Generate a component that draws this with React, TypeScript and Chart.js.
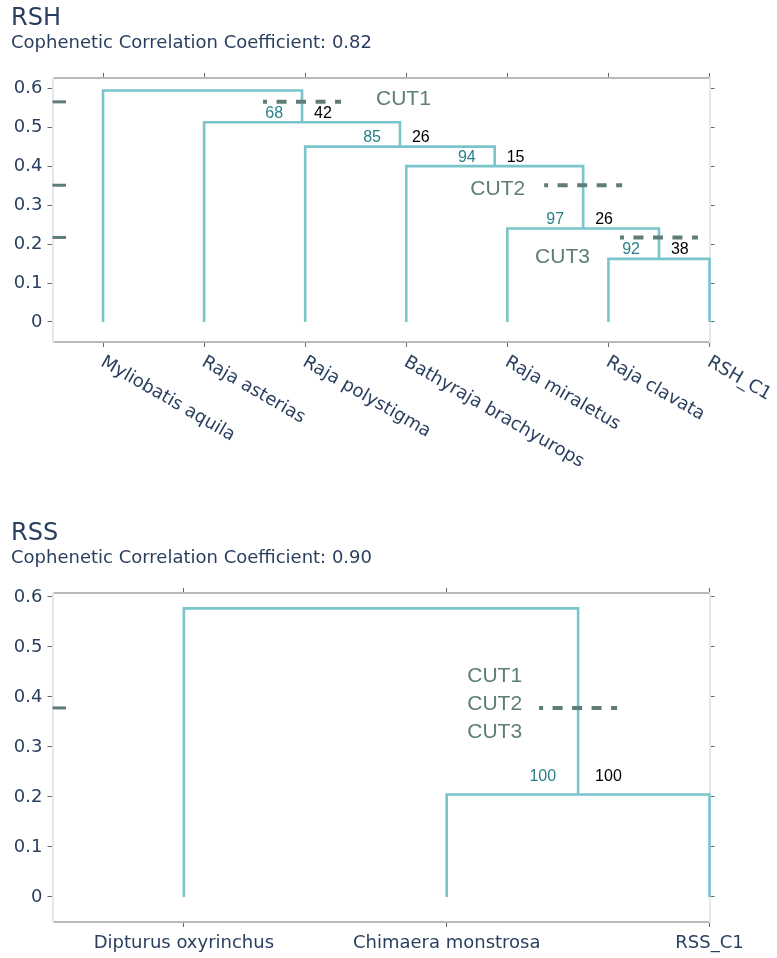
import React, { useEffect, useRef } from 'react';
import { Chart, registerables } from 'chart.js';

Chart.register(...registerables);

// ---- RSH group -------------------------------------------------------------
// leaves in dendrogram order; each merge joins two node ids (leaves first, then merges)
const RSH_LEAVES = [
  'Myliobatis aquila',
  'Raja asterias',
  'Raja polystigma',
  'Bathyraja brachyurops',
  'Raja miraletus',
  'Raja clavata',
  'RSH_C1',
];
const RSH_MERGES = [[5, 6], [4, 7], [3, 8], [2, 9], [1, 10], [0, 11]];
const RSH_HEIGHTS = [0.162, 0.24, 0.4, 0.45, 0.5125, 0.594];
const RSH_AU = [92, 97, 94, 85, 68, null];
const RSH_BP = [38, 26, 15, 26, 42, null];
const RSH_CUTS = [0.565, 0.351, 0.217];
const RSH_CCC = 0.82;

// ---- RSS group -------------------------------------------------------------
const RSS_LEAVES = ['Dipturus oxyrinchus', 'Chimaera monstrosa', 'RSS_C1'];
const RSS_MERGES = [[1, 2], [0, 3]];
const RSS_HEIGHTS = [0.205, 0.577];
const RSS_AU = [100, null];
const RSS_BP = [100, null];
const RSS_CUTS = [0.378, 0.378, 0.378];
const RSS_CCC = 0.9;

const CUT_NAMES = ['CUT1', 'CUT2', 'CUT3'];
const Y_TICKS = [0, 0.1, 0.2, 0.3, 0.4, 0.5, 0.6];

// ---- styling ---------------------------------------------------------------
const TEXT = '#2a3f5f';
const LINK = 'rgb(122,196,203)';
const AU_COLOR = 'rgb(42,128,136)';
const BP_COLOR = '#000000';
const CUT_COLOR = 'rgb(94,125,120)';
const FRAME_DARK = '#b9b9b9';
const FRAME_LIGHT = '#e2e6ee';
const TICK = '#666666';
const AXIS_FAMILY = "'DejaVu Sans', sans-serif";
const NOTE_FAMILY = "'Liberation Sans', Arial, sans-serif";

type Placement = { align: 'left' | 'right'; dx: number; dy: number };

interface Spec {
  title: string;
  ccc: number;
  leaves: string[];
  merges: number[][];
  heights: number[];
  au: (number | null)[];
  bp: (number | null)[];
  cuts: number[];
  yMin: number;
  yMax: number;
  rotateLabels: boolean;
  xAxisHeight: number;
  xLabelPadding: number;
  noteLift: number;
  noteGapLeft: number;
  noteGapRight: number;
  cutPlacement: Placement[];
}

// positions of every node (leaf index or midpoint of children) and the
// four-point elbow for each merge
function buildTree(leafCount: number, merges: number[][], heights: number[]) {
  const xs: number[] = [];
  const hs: number[] = [];
  for (let i = 0; i < leafCount; i++) {
    xs.push(i);
    hs.push(0);
  }
  const parentH: (number | null)[] = new Array(leafCount + merges.length).fill(null);
  const links: { x: number; y: number }[][] = [];
  merges.forEach(([a, b], k) => {
    const h = heights[k];
    const id = leafCount + k;
    xs[id] = (xs[a] + xs[b]) / 2;
    hs[id] = h;
    parentH[a] = h;
    parentH[b] = h;
    links.push([
      { x: xs[a], y: hs[a] },
      { x: xs[a], y: h },
      { x: xs[b], y: h },
      { x: xs[b], y: hs[b] },
    ]);
  });
  return { xs, hs, parentH, links };
}

function makeConfig(spec: Spec): any {
  const n = spec.leaves.length;
  const tree = buildTree(n, spec.merges, spec.heights);

  // group cuts that share a height so their names stack together
  const groups: { h: number; names: string[] }[] = [];
  spec.cuts.forEach((h, i) => {
    const g = groups.find((gr) => Math.abs(gr.h - h) < 1e-9);
    if (g) g.names.push(CUT_NAMES[i]);
    else groups.push({ h, names: [CUT_NAMES[i]] });
  });

  // internal branch crossed by a cut height
  const stemAt = (h: number) => {
    for (let id = n; id < tree.xs.length; id++) {
      const p = tree.parentH[id];
      if (p !== null && tree.hs[id] < h && h < p) return tree.xs[id];
    }
    return tree.xs[tree.xs.length - 1];
  };

  const marks = {
    id: 'dendroMarks',
    afterDatasetsDraw(chart: any) {
      const { ctx, chartArea } = chart;
      const xs = chart.scales.x;
      const ys = chart.scales.y;
      ctx.save();

      groups.forEach((g, gi) => {
        const py = ys.getPixelForValue(g.h);
        // marker on the left edge
        ctx.strokeStyle = CUT_COLOR;
        ctx.lineWidth = 3;
        ctx.setLineDash([]);
        ctx.beginPath();
        ctx.moveTo(chartArea.left, py);
        ctx.lineTo(chartArea.left + 13.5, py);
        ctx.stroke();

        // dashed cut across the branch
        const sx = xs.getPixelForValue(stemAt(g.h));
        ctx.lineWidth = 4;
        ctx.setLineDash([10, 9.5]);
        ctx.lineDashOffset = 6;
        ctx.beginPath();
        ctx.moveTo(sx - 39, py);
        ctx.lineTo(sx + 39, py);
        ctx.stroke();
        ctx.setLineDash([]);

        // cut names
        const pl = spec.cutPlacement[gi];
        ctx.font = `21px ${NOTE_FAMILY}`;
        ctx.fillStyle = CUT_COLOR;
        ctx.textAlign = pl.align;
        ctx.textBaseline = 'middle';
        const yc = py + pl.dy;
        g.names.forEach((name, i) => {
          ctx.fillText(name, sx + pl.dx, yc + (i - (g.names.length - 1) / 2) * 28);
        });
      });

      // support values beside each internal node
      ctx.font = `16px ${NOTE_FAMILY}`;
      ctx.textBaseline = 'middle';
      spec.merges.forEach((_, k) => {
        const au = spec.au[k];
        const bp = spec.bp[k];
        const id = n + k;
        const px = xs.getPixelForValue(tree.xs[id]);
        const py = ys.getPixelForValue(tree.hs[id]) - spec.noteLift;
        if (au !== null) {
          ctx.fillStyle = AU_COLOR;
          ctx.textAlign = 'right';
          ctx.fillText(String(au), px - spec.noteGapLeft, py);
        }
        if (bp !== null) {
          ctx.fillStyle = BP_COLOR;
          ctx.textAlign = 'left';
          ctx.fillText(String(bp), px + spec.noteGapRight, py);
        }
      });
      ctx.restore();
    },
    afterDraw(chart: any) {
      if (!spec.rotateLabels) return;
      const { ctx, chartArea } = chart;
      const xs = chart.scales.x;
      ctx.save();
      ctx.font = `18px ${AXIS_FAMILY}`;
      ctx.fillStyle = TEXT;
      ctx.textAlign = 'left';
      ctx.textBaseline = 'middle';
      spec.leaves.forEach((label, i) => {
        const px = xs.getPixelForValue(i);
        ctx.save();
        ctx.translate(px - 1, chartArea.bottom + 19);
        ctx.rotate(Math.PI / 6);
        ctx.fillText(label, 0, 0);
        ctx.restore();
      });
      ctx.restore();
    },
  };

  const leafTicks = (s: any) => {
    s.ticks = spec.leaves.map((_, i) => ({ value: i }));
  };
  const valueTicks = (s: any) => {
    s.ticks = Y_TICKS.map((v) => ({ value: v }));
  };
  const axisFont = { family: AXIS_FAMILY, size: 18 };
  const tickGrid = {
    drawOnChartArea: false,
    drawTicks: true,
    tickLength: 5,
    color: TICK,
    tickColor: TICK,
    tickWidth: 1,
  };

  return {
    type: 'scatter',
    data: {
      datasets: tree.links.map((pts) => ({
        data: pts,
        showLine: true,
        borderColor: LINK,
        borderWidth: 2.6,
        borderJoinStyle: 'miter',
        pointRadius: 0,
        pointHoverRadius: 0,
        fill: false,
        tension: 0,
        clip: false,
      })),
    },
    options: {
      responsive: false,
      animation: false,
      devicePixelRatio: 1,
      events: [],
      layout: { padding: { left: 11, right: 61.5, top: 0, bottom: 0 } },
      plugins: {
        legend: { display: false },
        tooltip: { enabled: false },
        title: {
          display: true,
          text: spec.title,
          align: 'start',
          color: TEXT,
          font: { family: AXIS_FAMILY, size: 24, weight: 'normal' },
          padding: { top: 4, bottom: 0 },
        },
        subtitle: {
          display: true,
          text: `Cophenetic Correlation Coefficient: ${spec.ccc.toFixed(2)}`,
          align: 'start',
          color: TEXT,
          font: { family: AXIS_FAMILY, size: 18, weight: 'normal' },
          padding: { top: 0, bottom: 17.5 },
        },
      },
      scales: {
        x: {
          type: 'linear',
          position: 'bottom',
          min: -0.5,
          max: n - 1,
          afterBuildTicks: leafTicks,
          ticks: {
            display: !spec.rotateLabels,
            callback: (_v: number, i: number) => spec.leaves[i],
            font: axisFont,
            color: TEXT,
            padding: spec.xLabelPadding,
            maxRotation: 0,
            minRotation: 0,
            autoSkip: false,
          },
          grid: tickGrid,
          border: { display: true, color: FRAME_DARK, width: 2 },
          afterFit: (s: any) => {
            s.height = spec.xAxisHeight;
          },
        },
        x2: {
          type: 'linear',
          position: 'top',
          min: -0.5,
          max: n - 1,
          afterBuildTicks: leafTicks,
          ticks: { display: false },
          grid: tickGrid,
          border: { display: true, color: FRAME_DARK, width: 2 },
          afterFit: (s: any) => {
            s.height = 6;
          },
        },
        y: {
          type: 'linear',
          position: 'left',
          min: spec.yMin,
          max: spec.yMax,
          afterBuildTicks: valueTicks,
          ticks: {
            callback: (v: number) => String(v),
            font: axisFont,
            color: TEXT,
            padding: 5,
          },
          grid: tickGrid,
          border: { display: true, color: FRAME_LIGHT, width: 2 },
          afterFit: (s: any) => {
            s.width = 41.5;
          },
        },
        y2: {
          type: 'linear',
          position: 'right',
          min: spec.yMin,
          max: spec.yMax,
          afterBuildTicks: valueTicks,
          ticks: { display: false },
          grid: tickGrid,
          border: { display: true, color: FRAME_LIGHT, width: 2 },
          afterFit: (s: any) => {
            s.width = 6;
          },
        },
      },
    },
    plugins: [marks],
  };
}

const RSH_SPEC: Spec = {
  title: 'RSH',
  ccc: RSH_CCC,
  leaves: RSH_LEAVES,
  merges: RSH_MERGES,
  heights: RSH_HEIGHTS,
  au: RSH_AU,
  bp: RSH_BP,
  cuts: RSH_CUTS,
  yMin: -0.0514,
  yMax: 0.6265,
  rotateLabels: true,
  xAxisHeight: 138,
  xLabelPadding: 5,
  noteLift: 9,
  noteGapLeft: 19,
  noteGapRight: 12,
  cutPlacement: [
    { align: 'left', dx: 74, dy: -3 },
    { align: 'right', dx: -58, dy: 3.5 },
    { align: 'right', dx: -69, dy: 20 },
  ],
};

const RSS_SPEC: Spec = {
  title: 'RSS',
  ccc: RSS_CCC,
  leaves: RSS_LEAVES,
  merges: RSS_MERGES,
  heights: RSS_HEIGHTS,
  au: RSS_AU,
  bp: RSS_BP,
  cuts: RSS_CUTS,
  yMin: -0.05,
  yMax: 0.608,
  rotateLabels: false,
  xAxisHeight: 36,
  xLabelPadding: 5.2,
  noteLift: 18,
  noteGapLeft: 22,
  noteGapRight: 17,
  cutPlacement: [{ align: 'right', dx: -56, dy: -4 }],
};

function Dendrogram({ spec, top, height }: { spec: Spec; top: number; height: number }) {
  const ref = useRef<HTMLCanvasElement | null>(null);
  useEffect(() => {
    if (!ref.current) return;
    const chart = new Chart(ref.current, makeConfig(spec));
    return () => chart.destroy();
  }, [spec]);
  return (
    <canvas
      ref={ref}
      width={777}
      height={height}
      style={{ position: 'absolute', left: 0, top, width: 777, height, display: 'block' }}
    />
  );
}

export default function App() {
  return (
    <div>
      <Dendrogram spec={RSH_SPEC} top={0} height={480} />
      <Dendrogram spec={RSS_SPEC} top={515} height={443} />
    </div>
  );
}
